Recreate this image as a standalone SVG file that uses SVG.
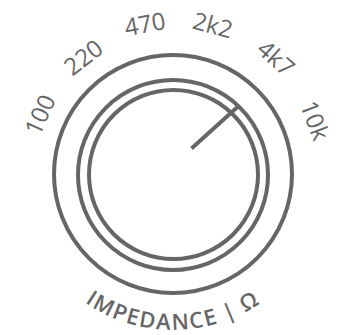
<svg xmlns="http://www.w3.org/2000/svg" width="339" height="335" viewBox="0 0 339 335">
  <style>
    .ring { fill: none; stroke: #666; stroke-width: 4; }
    .num { font-family: "Open Sans", "Liberation Sans", sans-serif; font-weight: 400; font-size: 24px; fill: #666; text-anchor: middle; }
    .title { font-family: "Open Sans", "Liberation Sans", sans-serif; font-weight: 600; font-size: 22px; fill: #666; letter-spacing: 1.5px; }
  </style>
  <defs>
    <path id="bottomArc" d="M38 252 A156 156 0 0 0 308 252" fill="none"/>
  </defs>
  <g id="knob">
    <circle class="ring" cx="173" cy="174" r="119"/>
    <circle class="ring" cx="173" cy="175" r="95"/>
    <circle class="ring" cx="173.5" cy="174.5" r="84.5"/>
  </g>
  <g id="pointer">
    <line x1="191.5" y1="148.5" x2="238" y2="106.5" stroke="#666" stroke-width="4"/>
  </g>
  <g id="labels">
    <text class="num" x="173" y="37" transform="rotate(-66 173 174)">100</text>
    <text class="num" x="173" y="35.5" transform="rotate(-37.5 173 174)">220</text>
    <text class="num" x="173" y="30" transform="rotate(-10.6 173 174)">470</text>
    <text class="num" x="173" y="28.5" transform="rotate(15 173 174)">2k2</text>
    <text class="num" x="173" y="27.5" transform="rotate(41.6 173 174)">4k7</text>
    <text class="num" x="173" y="31" transform="rotate(69.3 173 174)">10k</text>
  </g>
  <g id="title">
    <text class="title"><textPath href="#bottomArc" startOffset="50%" text-anchor="middle">IMPEDANCE | Ω</textPath></text>
  </g>
</svg>
